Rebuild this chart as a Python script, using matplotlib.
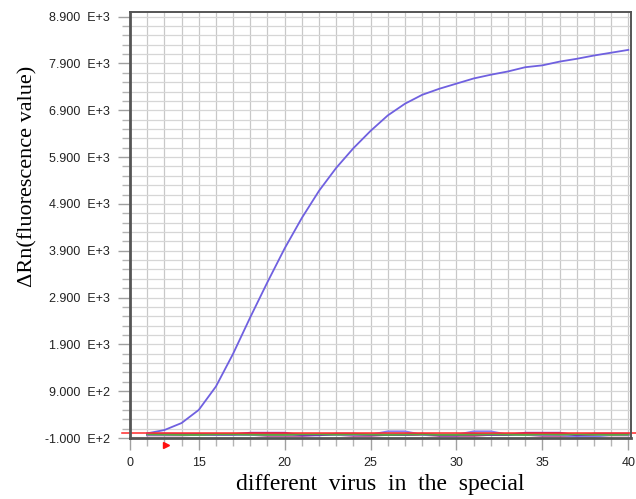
import matplotlib.pyplot as plt
from matplotlib.transforms import blended_transform_factory

# cycles (the first axis label reads "0" in the original)
cycles = list(range(12, 41))
sample = [0, 70, 220, 500, 1000, 1700, 2480, 3230, 3950, 4600, 5180, 5670, 6090, 6460,
          6790, 7040, 7230, 7360, 7470, 7580, 7660, 7730, 7820, 7860, 7940, 8000, 8070, 8130, 8190]
neg_green = [-20, -25, -30, -30, -20, -20, -25, -30, -30, -20, -20, -25, -20, -25,
             -30, -25, -20, -30, -30, -25, -20, -25, -30, -20, -25, -20, -25, -30, -25]
neg_purple = [-10, -10, -15, -15, -20, -20, 10, 10, 10, -40, -40, -10, -10, -30,
              -30, -30, -10, -40, -40, -10, -30, -30, 10, 10, 10, -40, -10, -10, -10]
neg_magenta = [-40, -40, -40, -30, -30, -30, -30, -50, -50, -50, -30, -30, -50, -50,
               -30, -30, -30, -50, -50, -50, -30, -30, -30, -50, -50, -50, -40, -40, -40]
neg_violet = [-30, -30, -30, -30, -30, -30, -30, -30, -30, -30, -30, -30, -30, -30,
              40, 40, -30, -30, -30, 40, 40, -30, -30, -30, -30, -70, -70, -30, -30]
threshold = 10

x_ticks = [11, 15, 20, 25, 30, 35, 40]
x_labels = ["0", "15", "20", "25", "30", "35", "40"]
y_ticks = [-100, 900, 1900, 2900, 3900, 4900, 5900, 6900, 7900, 8900]
y_labels = ["-1.000  E+2", "9.000  E+2", "1.900  E+3", "2.900  E+3", "3.900  E+3",
            "4.900  E+3", "5.900  E+3", "6.900  E+3", "7.900  E+3", "8.900  E+3"]

fig = plt.figure(figsize=(6.36, 4.99), dpi=100)
ax = fig.add_axes([0.2044, 0.1222, 0.7876, 0.8538])
ax.set_xlim(11, 40.15)
ax.set_ylim(-100, 9000)

# grid: every cycle, every 200 units
for c in range(12, 41):
    ax.axvline(c, color="#c8c8c8", lw=0.9, zorder=0)
for v in range(100, 9000, 200):
    ax.axhline(v, color="#d6d6d6", lw=0.9, zorder=0)

ax.plot(cycles, neg_magenta, color="#b02a8a", lw=1.5)
ax.plot(cycles, neg_violet, color="#8d7cf0", lw=1.5)
ax.plot(cycles, neg_purple, color="#7a18c8", lw=1.5)
ax.plot(cycles, neg_green, color="#5aa83c", lw=1.5)
ax.plot(cycles, sample, color="#6f60e0", lw=1.3)
ax.axhline(threshold, xmin=-0.015, xmax=1.01, color="#ff2a2a", lw=1.1, clip_on=False)

# threshold flag below the axis
trans = blended_transform_factory(ax.transData, ax.transAxes)
ax.plot([13.1], [-0.016], marker=">", color="#ff1010", ms=5, transform=trans, clip_on=False)

ax.set_xticks(x_ticks)
ax.set_xticklabels(x_labels)
ax.set_xticks(range(12, 41), minor=True)
ax.set_yticks(y_ticks)
ax.set_yticklabels(y_labels)
ax.set_yticks(range(100, 9000, 200), minor=True)
ax.tick_params(axis="both", which="major", length=8.6, width=1, color="#a0a0a0",
               labelsize=9, labelcolor="#222222", pad=5.8)
ax.tick_params(axis="both", which="minor", length=5.5, width=1, color="#b4b4b4")
ax.tick_params(axis="x", which="major", pad=5)
for lab in ax.get_xticklabels() + ax.get_yticklabels():
    lab.set_family("Liberation Sans")

for side in ["left", "bottom"]:
    ax.spines[side].set_color("#555555")
    ax.spines[side].set_linewidth(2)
for side in ["top", "right"]:
    ax.spines[side].set_color("#555555")
    ax.spines[side].set_linewidth(1.4)

ax.set_xlabel("different  virus  in  the  special", family="Liberation Serif", fontsize=17)
ax.xaxis.set_label_coords(0.5, -0.085)
ax.set_ylabel("\u0394Rn(fluorescence value)", family="Liberation Serif", fontsize=16)
ax.yaxis.set_label_coords(-0.184, 0.613)

fig.savefig("out.png", dpi=100)
